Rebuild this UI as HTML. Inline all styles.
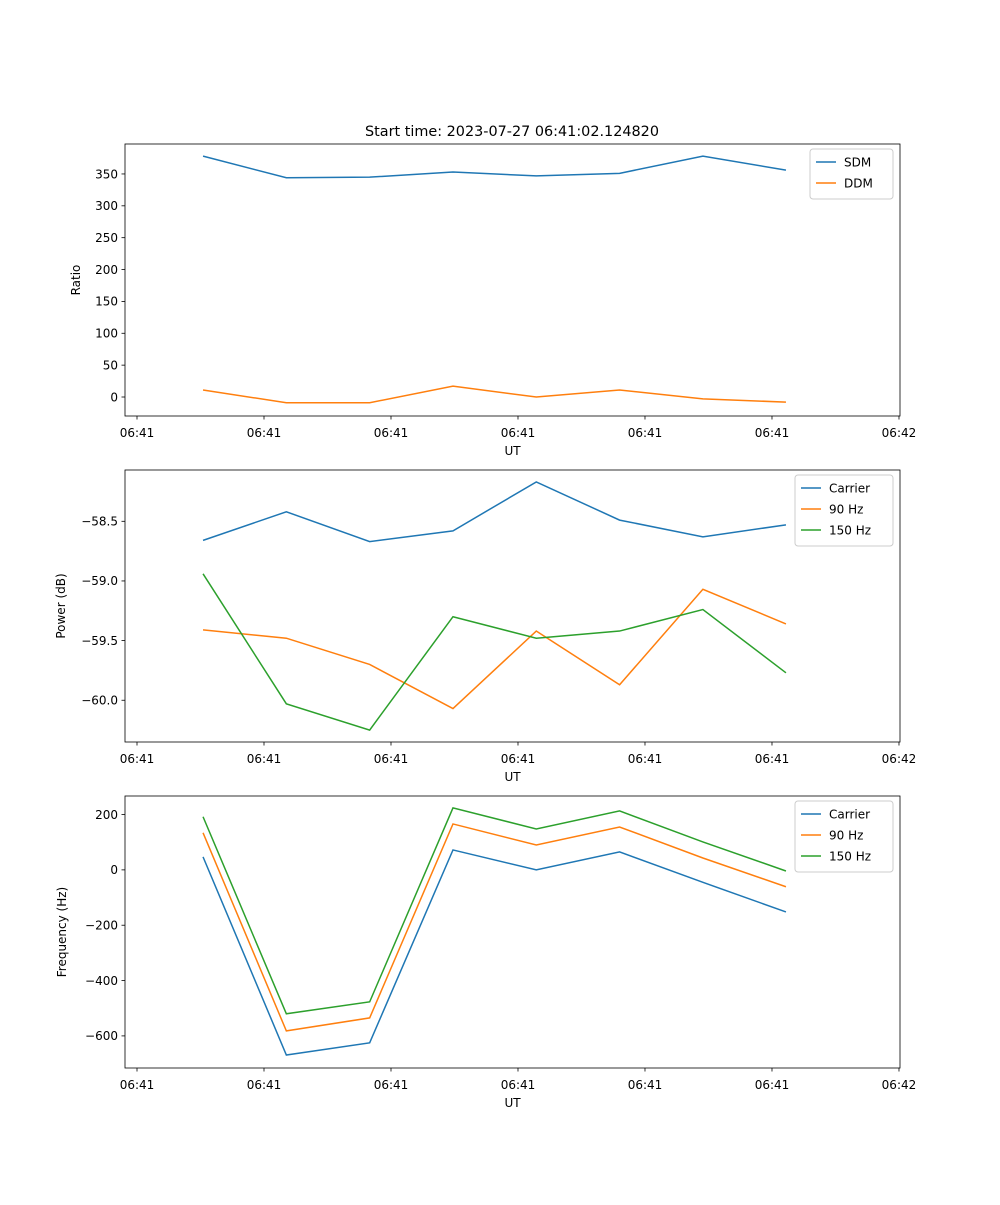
<!DOCTYPE html>
<html><head><meta charset="utf-8"><style>
body{margin:0;background:#fff}
svg text{font-family:"DejaVu Sans","Liberation Sans",sans-serif;fill:#000}
</style></head><body>
<svg id="fig" width="1000" height="1200" xmlns="http://www.w3.org/2000/svg">
<rect width="1000" height="1200" fill="#fff"/>
<text x="512" y="136" font-size="14.4" text-anchor="middle">Start time: 2023-07-27 06:41:02.124820</text>
</svg>
<script>
const xTimes = [5.2, 11.76, 18.32, 24.88, 31.44, 38.0, 44.56, 51.1];
const xTickVals = [0,10,20,30,40,50,60];
const xTickLabels = ["06:41","06:41","06:41","06:41","06:41","06:41","06:42"];
const sdm = [378, 344, 345, 353, 347, 351, 378, 356];
const ddm = [11, -9, -9, 17, 0, 11, -3, -8];
const pwrCarrier = [-58.66, -58.42, -58.67, -58.58, -58.17, -58.49, -58.63, -58.53];
const pwr90 = [-59.41, -59.48, -59.70, -60.07, -59.42, -59.87, -59.07, -59.36];
const pwr150 = [-58.94, -60.03, -60.25, -59.30, -59.48, -59.42, -59.24, -59.77];
const frqCarrier = [47, -669, -625, 72, 0, 65, -45, -152];
const frq90 = [134, -582, -535, 166, 90, 155, 43, -61];
const frq150 = [192, -520, -477, 224, 148, 213, 101, -4];
const ticks1 = [0,50,100,150,200,250,300,350];
const ticks2 = [-60.0,-59.5,-59.0,-58.5];
const ticks3 = [-600,-400,-200,0,200];

const NS="http://www.w3.org/2000/svg";
const svg=document.getElementById('fig');
function mk(t,a,p){const e=document.createElementNS(NS,t);for(const k in a)e.setAttribute(k,a[k]);(p||svg).appendChild(e);return e;}
const L=125,R=900,XMIN=-0.945,XMAX=60.08;
const xs=v=>L+(v-XMIN)/(XMAX-XMIN)*(R-L);
const C=["#1f77b4","#ff7f0e","#2ca02c"];
function panel(name,top,bot,ymin,ymax,yt,fmt,ylabel,series,labels,legW){
  const g=mk('g',{});
  
  
  const ys=v=>bot-(v-ymin)/(ymax-ymin)*(bot-top);
  series.forEach((s,i)=>{
    const p=mk('polyline',{points:s.map((v,j)=>xs(xTimes[j])+','+ys(v)).join(' '),fill:'none',stroke:C[i],'stroke-width':1.5},g);
    
    
  });
  const fr=mk('rect',{x:L,y:top,width:R-L,height:bot-top,fill:'none',stroke:'#000','stroke-width':0.8},g);
  
  
  xTickVals.forEach((v,i)=>{
    const x=xs(v);
    mk('line',{x1:x,x2:x,y1:bot,y2:bot+3.5,stroke:'#000','stroke-width':0.8},g);
    const t=mk('text',{x:x,y:bot+21,'font-size':12,'text-anchor':'middle'},g);
    
    
    t.textContent=xTickLabels[i];
  });
  yt.forEach(v=>{
    const y=ys(v);
    mk('line',{x1:L-3.5,x2:L,y1:y,y2:y,stroke:'#000','stroke-width':0.8},g);
    const t=mk('text',{x:L-7,y:y+4.3,'font-size':12,'text-anchor':'end'},g);
    
    
    t.textContent=fmt(v);
  });
  const xl=mk('text',{x:(L+R)/2,y:bot+39,'font-size':12,'text-anchor':'middle'},g);
  
  
  xl.textContent='UT';
  const lx=name==='ratio-panel'?80:(name==='power-panel'?65:66);
  const yl=mk('text',{x:lx,y:(top+bot)/2,'font-size':12,'text-anchor':'middle',transform:`rotate(-90 ${lx} ${(top+bot)/2})`},g);
  
  
  yl.textContent=ylabel;
  const lg=mk('g',{},g);
  
  
  const bx=893-legW,by=top+5,bh=8+labels.length*21;
  mk('rect',{x:bx,y:by,width:legW,height:bh,rx:3,fill:'#fff','fill-opacity':0.8,stroke:'#ccc'},lg);
  labels.forEach((lb,i)=>{
    const yy=by+13+i*21;
    mk('line',{x1:bx+6,x2:bx+26,y1:yy,y2:yy,stroke:C[i],'stroke-width':1.5},lg);
    const t=mk('text',{x:bx+34,y:yy+4.3,'font-size':12},lg);
    
    
    t.textContent=lb;
  });
}
const m="\u2212";
panel('ratio-panel',144,416,-29.8,397,ticks1,v=>v<0?m+(-v):''+v,'Ratio',[sdm,ddm],['SDM','DDM'],83);
panel('power-panel',470,742,-60.35,-58.07,ticks2,v=>m+(-v).toFixed(1),'Power (dB)',[pwrCarrier,pwr90,pwr150],['Carrier','90 Hz','150 Hz'],98);
panel('frequency-panel',796,1068,-716,267,ticks3,v=>v<0?m+(-v):''+v,'Frequency (Hz)',[frqCarrier,frq90,frq150],['Carrier','90 Hz','150 Hz'],98);
</script>
</body></html>
